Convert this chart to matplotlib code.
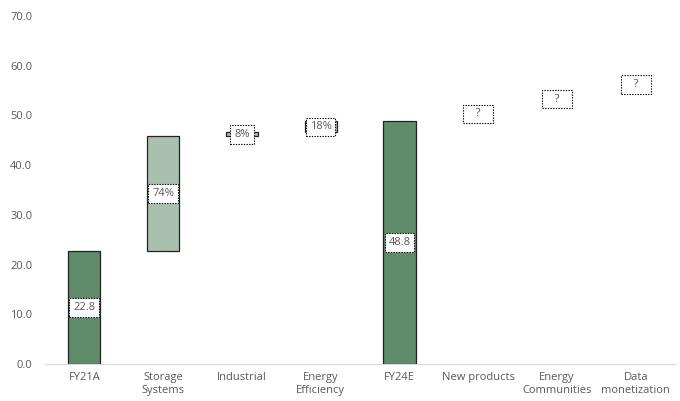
import matplotlib.pyplot as plt

# ── Data ──────────────────────────────────────────────────────────────────────
categories = ["FY21A", "Storage\nSystems", "Industrial", "Energy\nEfficiency",
              "FY24E", "New products", "Energy\nCommunities", "Data\nmonetization"]
bar_bottom = [0.0, 22.8, 45.8, 46.6, 0.0, 48.8, 51.8, 54.8]
bar_height = [22.8, 23.0, 0.8, 2.2, 48.8, 3.0, 3.0, 3.0]
bar_kind   = ["total", "step", "step", "step", "total", "blank", "blank", "blank"]
labels     = ["22.8", "74%", "8%", "18%", "48.8", "   ?   ", "   ?   ", "   ?   "]
yticks     = [0, 10, 20, 30, 40, 50, 60, 70]

DARK  = "#5f8b6a"
LIGHT = "#a8c0ad"
GREY  = "#595959"

plt.rcParams["font.family"] = ["Open Sans", "DejaVu Sans"]

fig = plt.figure(figsize=(6.8, 4.01), dpi=100)
ax = fig.add_axes([0.066, 0.092, 0.927, 0.868])

x = list(range(len(categories)))
for i in x:
    kind = bar_kind[i]
    if kind == "total":
        fc, ec = DARK, "#222222"
    elif kind == "step":
        fc, ec = LIGHT, "#222222"
    else:
        fc, ec = "none", "none"
    ax.bar(i, bar_height[i], bottom=bar_bottom[i], width=0.41,
           color=fc, edgecolor=ec, linewidth=0.9)
    ax.text(i, bar_bottom[i] + bar_height[i] / 2, labels[i],
            ha="center", va="center", fontsize=8, color=GREY,
            bbox=dict(boxstyle="square,pad=0.35", fc="white", ec="black",
                      ls=(0, (1.2, 1.2)), lw=0.8))

ax.set_xlim(-0.5, len(categories) - 0.5)
ax.set_ylim(0, 70)
ax.set_yticks(yticks)
ax.set_yticklabels([f"{v:.1f}" for v in yticks])
ax.set_xticks(x)
ax.set_xticklabels(categories)

for s in ["top", "right", "left"]:
    ax.spines[s].set_visible(False)
ax.spines["bottom"].set_color("#d9d9d9")
ax.tick_params(axis="both", length=0, labelsize=8, colors=GREY)
ax.tick_params(axis="y", pad=9)
ax.tick_params(axis="x", pad=6)
for t in ax.get_xticklabels():
    t.set_linespacing(1.25)
    t.set_va("top")

fig.savefig("out.png", dpi=100)
